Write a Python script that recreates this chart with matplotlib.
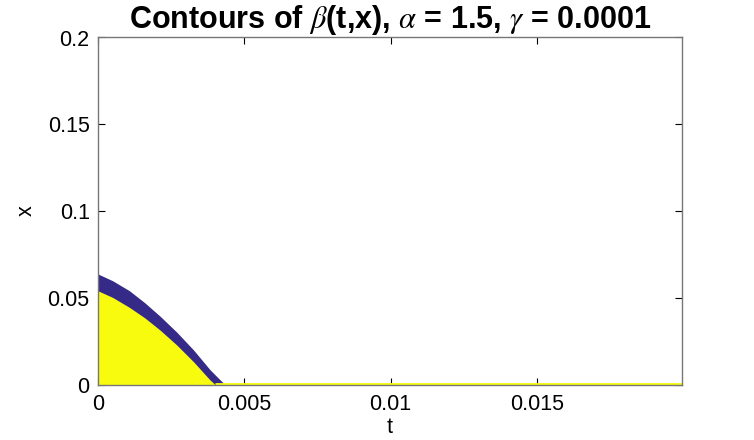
import matplotlib
matplotlib.use("Agg")
import matplotlib.pyplot as plt

plt.rcParams['font.family'] = ['Liberation Sans', 'DejaVu Sans']
plt.rcParams['mathtext.fontset'] = 'stix'

# Boundary of the dark-blue contour band (upper edge)
t_upper = [0.0, 0.0005, 0.00107, 0.0016, 0.00212, 0.00269, 0.00326, 0.00383, 0.0041, 0.00434]
x_upper = [0.0637, 0.0598, 0.0541, 0.0471, 0.0394, 0.0302, 0.0200, 0.0085, 0.0039, 0.0]
# Boundary of the yellow contour region (upper edge)
t_lower = [0.0, 0.0005, 0.00107, 0.0016, 0.00212, 0.00269, 0.00326, 0.00383, 0.0040]
x_lower = [0.0540, 0.0502, 0.0445, 0.0384, 0.0314, 0.0228, 0.0132, 0.0026, 0.0]
# Thin yellow contour along x = 0
t_base = [0.0040, 0.01996]
x_base = [0.0, 0.0]

x_ticks = [0, 0.005, 0.01, 0.015]
x_ticklabels = ['0', '0.005', '0.01', '0.015']
y_ticks = [0, 0.05, 0.1, 0.15, 0.2]
y_ticklabels = ['0', '0.05', '0.1', '0.15', '0.2']

navy = '#352a87'
yellow = '#f9fb0e'
spine_gray = '#777777'

fig = plt.figure(figsize=(7.54, 4.40), dpi=100)
ax = fig.add_axes([98/754, (440-384.5)/440, 584/754, 347/440])

ax.fill_between(t_upper, 0, x_upper, color=navy, lw=0, zorder=1)
ax.fill_between(t_lower, 0, x_lower, color=yellow, lw=0, zorder=2)
ax.plot(t_base, x_base, color=yellow, lw=3.5, zorder=2, solid_capstyle='butt')

ax.set_xlim(0, 0.01996)
ax.set_ylim(0, 0.2)
ax.set_xticks(x_ticks)
ax.set_xticklabels(x_ticklabels)
ax.set_yticks(y_ticks)
ax.set_yticklabels(y_ticklabels)

for s in ax.spines.values():
    s.set_color(spine_gray)
    s.set_linewidth(1.0)
    s.set_zorder(5)

ax.tick_params(direction='in', length=5, width=0.8, color='black',
               top=True, right=True, labelsize=15.5)
ax.tick_params(axis='x', pad=7)
ax.tick_params(axis='y', pad=6)

ax.set_xlabel('t', fontsize=15.5, labelpad=1)
ax.set_ylabel('x', fontsize=15.5, labelpad=8)
ax.set_title(r'Contours of $\beta$(t,x), $\alpha$ = 1.5, $\gamma$ = 0.0001',
             fontsize=22, fontweight='bold', pad=7)

fig.savefig('out.png', dpi=100)
